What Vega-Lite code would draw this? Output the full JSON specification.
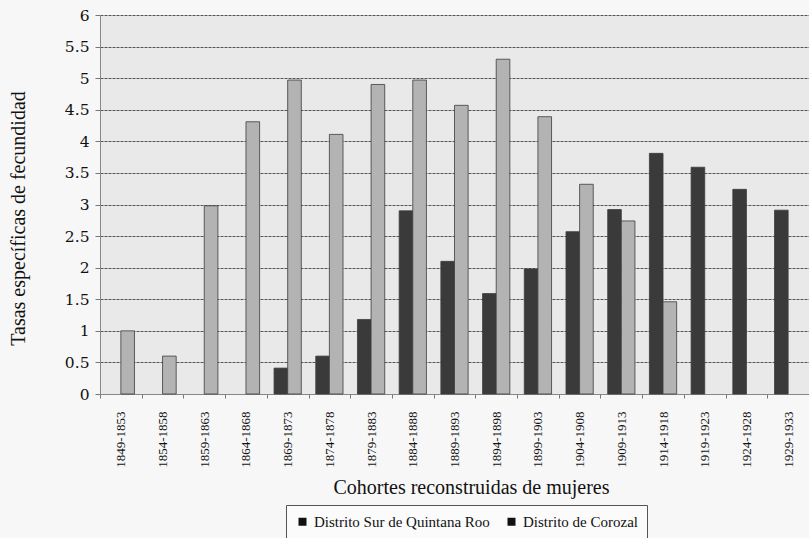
{
  "$schema": "https://vega.github.io/schema/vega-lite/v6.json",
  "autosize": {"type": "none"},
  "width": 709,
  "height": 379,
  "padding": {"left": 100, "top": 15, "right": 0, "bottom": 144},
  "background": "#f7f7f7",
  "config": {
    "view": {"fill": "#e9e9e9", "stroke": null},
    "font": "Liberation Serif"
  },
  "data": {
    "values": [
      {"cohorte": "1849-1853", "distrito": "Distrito de Corozal", "tasa": 1.0},
      {"cohorte": "1854-1858", "distrito": "Distrito de Corozal", "tasa": 0.6},
      {"cohorte": "1859-1863", "distrito": "Distrito de Corozal", "tasa": 2.98},
      {"cohorte": "1864-1868", "distrito": "Distrito de Corozal", "tasa": 4.31},
      {"cohorte": "1869-1873", "distrito": "Distrito Sur de Quintana Roo", "tasa": 0.41},
      {"cohorte": "1869-1873", "distrito": "Distrito de Corozal", "tasa": 4.97},
      {"cohorte": "1874-1878", "distrito": "Distrito Sur de Quintana Roo", "tasa": 0.6},
      {"cohorte": "1874-1878", "distrito": "Distrito de Corozal", "tasa": 4.11},
      {"cohorte": "1879-1883", "distrito": "Distrito Sur de Quintana Roo", "tasa": 1.18},
      {"cohorte": "1879-1883", "distrito": "Distrito de Corozal", "tasa": 4.9},
      {"cohorte": "1884-1888", "distrito": "Distrito Sur de Quintana Roo", "tasa": 2.9},
      {"cohorte": "1884-1888", "distrito": "Distrito de Corozal", "tasa": 4.97},
      {"cohorte": "1889-1893", "distrito": "Distrito Sur de Quintana Roo", "tasa": 2.1},
      {"cohorte": "1889-1893", "distrito": "Distrito de Corozal", "tasa": 4.57},
      {"cohorte": "1894-1898", "distrito": "Distrito Sur de Quintana Roo", "tasa": 1.59},
      {"cohorte": "1894-1898", "distrito": "Distrito de Corozal", "tasa": 5.3},
      {"cohorte": "1899-1903", "distrito": "Distrito Sur de Quintana Roo", "tasa": 1.98},
      {"cohorte": "1899-1903", "distrito": "Distrito de Corozal", "tasa": 4.39},
      {"cohorte": "1904-1908", "distrito": "Distrito Sur de Quintana Roo", "tasa": 2.57},
      {"cohorte": "1904-1908", "distrito": "Distrito de Corozal", "tasa": 3.32},
      {"cohorte": "1909-1913", "distrito": "Distrito Sur de Quintana Roo", "tasa": 2.92},
      {"cohorte": "1909-1913", "distrito": "Distrito de Corozal", "tasa": 2.74},
      {"cohorte": "1914-1918", "distrito": "Distrito Sur de Quintana Roo", "tasa": 3.81},
      {"cohorte": "1914-1918", "distrito": "Distrito de Corozal", "tasa": 1.46},
      {"cohorte": "1919-1923", "distrito": "Distrito Sur de Quintana Roo", "tasa": 3.59},
      {"cohorte": "1924-1928", "distrito": "Distrito Sur de Quintana Roo", "tasa": 3.24},
      {"cohorte": "1929-1933", "distrito": "Distrito Sur de Quintana Roo", "tasa": 2.91}
    ]
  },
  "mark": {"type": "bar", "stroke": "#3c3c3c", "strokeWidth": 0.8},
  "encoding": {
    "x": {
      "field": "cohorte",
      "type": "nominal",
      "sort": null,
      "scale": {"paddingInner": 0, "paddingOuter": 0},
      "axis": {
        "title": "Cohortes reconstruidas de mujeres",
        "titleFont": "Liberation Serif",
        "titleFontSize": 20,
        "titleFontWeight": "normal",
        "titleColor": "#111",
        "titleX": 371,
        "titleY": 93,
        "titleAlign": "center",
        "titleBaseline": "middle",
        "labelAngle": 270,
        "labelFont": "Liberation Serif",
        "labelFontSize": 13,
        "labelColor": "#111",
        "labelPadding": 13,
        "tickBand": "extent",
        "tickSize": 4,
        "tickColor": "#777",
        "domainColor": "#888",
        "grid": false
      }
    },
    "xOffset": {
      "field": "distrito",
      "type": "nominal",
      "sort": ["Distrito Sur de Quintana Roo", "Distrito de Corozal"],
      "scale": {"paddingInner": 0, "paddingOuter": 0.53}
    },
    "y": {
      "field": "tasa",
      "type": "quantitative",
      "scale": {"domain": [0, 6], "nice": false},
      "axis": {
        "title": "Tasas específicas de fecundidad",
        "titleFont": "Liberation Serif",
        "titleFontSize": 20,
        "titleFontWeight": "normal",
        "titleColor": "#111",
        "titleAngle": 270,
        "titleX": -82,
        "titleY": 203,
        "titleAlign": "center",
        "titleBaseline": "middle",
        "values": [0, 0.5, 1, 1.5, 2, 2.5, 3, 3.5, 4, 4.5, 5, 5.5, 6],
        "format": ".2~f",
        "labelFont": "DejaVu Serif",
        "labelFontSize": 15.5,
        "labelColor": "#111",
        "labelPadding": 6,
        "tickSize": 5,
        "tickColor": "#777",
        "domainColor": "#888",
        "grid": true,
        "gridColor": "#555555",
        "gridWidth": 1,
        "gridDash": [3, 1]
      }
    },
    "color": {
      "field": "distrito",
      "type": "nominal",
      "scale": {
        "domain": ["Distrito Sur de Quintana Roo", "Distrito de Corozal"],
        "range": ["#3a3a3a", "#b3b3b3"]
      },
      "legend": null
    },
    "opacity": {
      "field": "distrito",
      "type": "nominal",
      "sort": ["Distrito Sur de Quintana Roo", "Distrito de Corozal"],
      "scale": {"range": [1, 1]},
      "legend": {
        "title": null,
        "orient": "none",
        "legendX": 186,
        "legendY": 490,
        "direction": "horizontal",
        "labelFont": "Liberation Serif",
        "labelFontSize": 15,
        "labelLimit": 400,
        "labelColor": "#111",
        "symbolType": "square",
        "symbolSize": 64,
        "symbolFillColor": "#111",
        "symbolStrokeWidth": 0,
        "columnPadding": 14,
        "padding": 9,
        "strokeColor": "#555",
        "fillColor": "#fbfbfb",
        "encode": {
          "legend": {
            "strokeDash": {"value": [2, 2]}
          },
          "symbols": {
            "shape": {
              "condition": {"test": "datum.label == 'Distrito de Corozal'", "value": "circle"},
              "value": "square"
            }
          }
        }
      }
    }
  }
}
